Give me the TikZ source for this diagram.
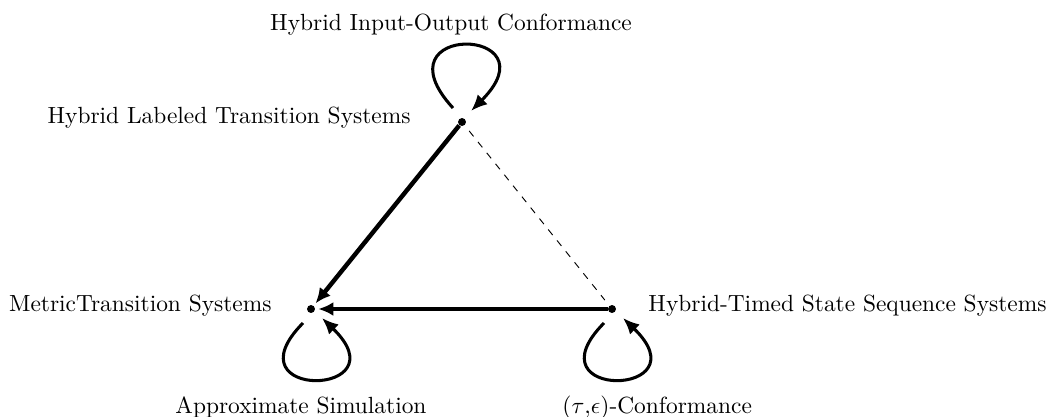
\documentclass[tikz,border=0pt]{standalone}
\usetikzlibrary{arrows.meta,calc}
\begin{document}
\begin{tikzpicture}[x={(0.4274pt,0)},y={(0,-0.4274pt)},
  dot/.style={circle,fill=black,inner sep=0pt,minimum size=3.4pt},
  lbl/.style={inner sep=0pt},
  thickarrow/.style={line width=1.9pt,-{Latex[length=6.5pt,width=6pt]},shorten >=1.2pt},
  loopline/.style={line width=1.3pt,-{Latex[length=7pt,width=6pt]}},
  dashline/.style={line width=0.4pt,dashed}]
\useasboundingbox (0,0) rectangle (1049,417);
\node[dot] (t) at (462,122) {};
\node[dot] (l) at (311,309) {};
\node[dot] (r) at (612,309) {};
% labels
\node[lbl,anchor=base] (tl1) at (451,30) {Hybrid Input-Output Conformance};
\node[lbl,anchor=base east] (tl2) at (411,123) {Hybrid Labeled Transition Systems};
\node[lbl,anchor=base east] (ll1) at (272,311) {MetricTransition Systems};
\node[lbl,anchor=base west] (rl1) at (648,311) {Hybrid-Timed State Sequence Systems};
\node[lbl,anchor=base west] (ll2) at (175,413) {Approximate Simulation};
\node[lbl,anchor=base west] (rl2) at (562,413) {$(\tau{,}\epsilon)$-Conformance};
% edges
\draw[thickarrow] (t) -- (l);
\draw[thickarrow] (r) -- (l);
\draw[dashline,shorten <=3pt,shorten >=3pt] (t) -- (r);
% loops
\draw[loopline] ($(t)+(-9,-14)$) .. controls ($(t)+(-88,-100)$) and ($(t)+(94,-96)$) .. ($(t)+(9,-11)$);
\draw[loopline] ($(l)+(-8,14)$) .. controls ($(l)+(-85,92)$) and ($(l)+(93,88)$) .. ($(l)+(11,9)$);
\draw[loopline] ($(r)+(-8,14)$) .. controls ($(r)+(-85,92)$) and ($(r)+(93,88)$) .. ($(r)+(11,9)$);
\end{tikzpicture}
\end{document}
